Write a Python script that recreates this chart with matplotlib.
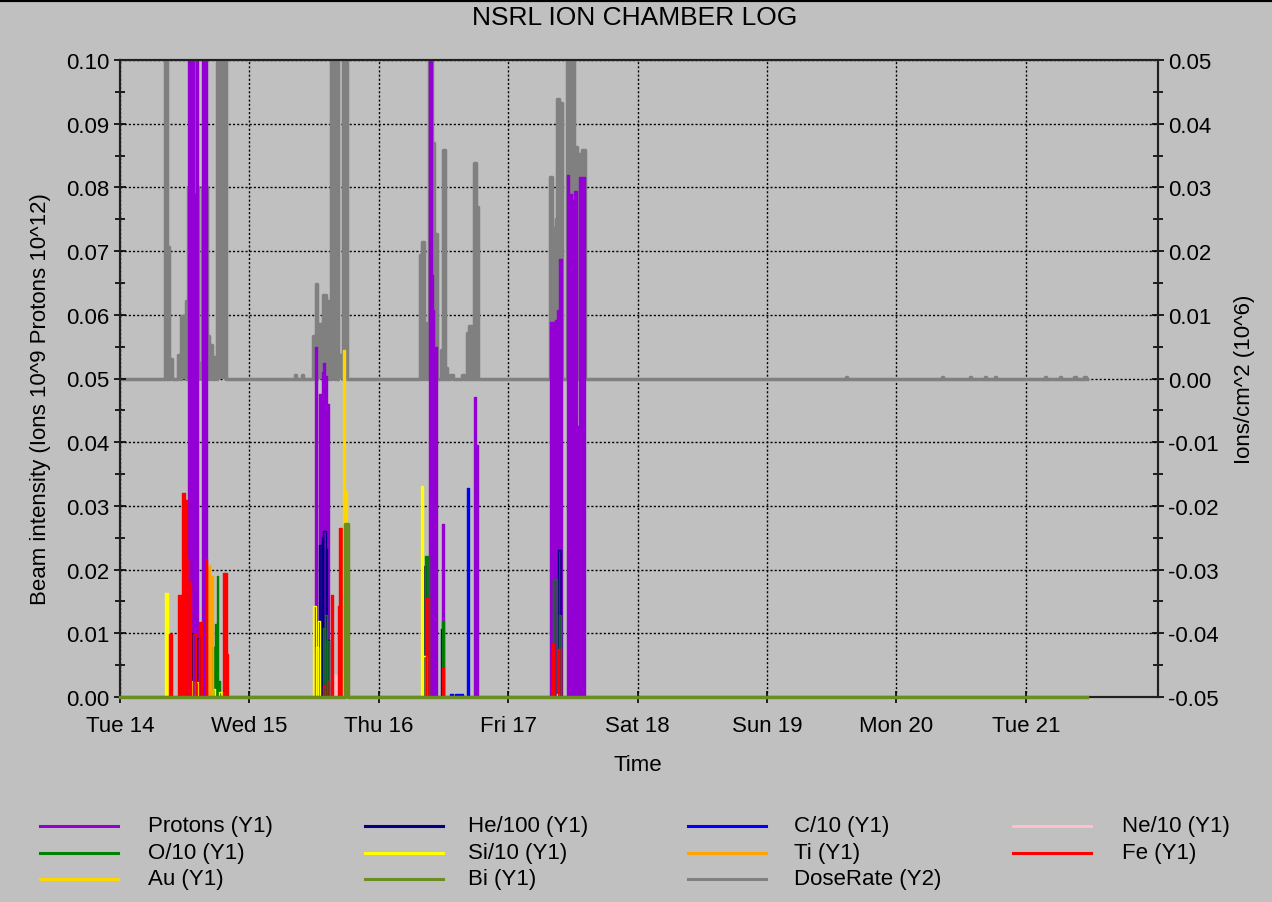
import matplotlib
matplotlib.use('Agg')
import matplotlib.pyplot as plt
import numpy as np
from matplotlib.lines import Line2D

plt.rcParams['font.family'] = ['Liberation Sans', 'DejaVu Sans']

# time axis in hours since Tue 14 00:00
day_hours = [0, 24, 48, 72, 96, 120, 144, 168]
day_labels = ['Tue 14', 'Wed 15', 'Thu 16', 'Fri 17', 'Sat 18', 'Sun 19', 'Mon 20', 'Tue 21']
end_hour = 179.3

# each series: (start hour, end hour, value); 0.12 / 0.06 = off scale
protons = [(12.55, 13.79, 0.12), (13.79, 14.03, 0.079), (14.03, 14.53, 0.12), (15.15, 16.07, 0.12),
           (36.17, 36.48, 0.055), (36.97, 37.40, 0.0475), (37.40, 37.71, 0.051), (37.71, 38.02, 0.0524),
           (38.02, 38.45, 0.0504), (38.45, 38.83, 0.046),
           (57.31, 57.80, 0.12), (57.80, 58.11, 0.0663), (58.11, 58.30, 0.0607), (58.30, 58.73, 0.0549),
           (59.66, 60.09, 0.0272), (65.65, 66.03, 0.0471), (66.03, 66.33, 0.0395),
           (79.75, 80.68, 0.0588), (80.68, 81.11, 0.0592), (81.11, 81.42, 0.0608), (81.42, 82.04, 0.0687),
           (82.84, 83.34, 0.082), (83.34, 83.77, 0.079), (83.77, 84.20, 0.0781), (84.20, 84.70, 0.0795),
           (84.70, 85.19, 0.0425), (85.19, 86.24, 0.0817)]
helium = [(13.29, 13.60, 0.010), (14.34, 14.71, 0.0092),
          (36.97, 37.40, 0.0238), (37.40, 37.71, 0.0251), (37.71, 38.21, 0.0261), (38.21, 38.45, 0.0232),
          (38.45, 38.83, 0.009), (56.44, 56.63, 0.0205), (59.47, 59.72, 0.0106), (81.30, 81.73, 0.023)]
carbon = [(61.20, 61.70, 0.0004), (62.13, 63.68, 0.0004), (64.29, 64.73, 0.0328)]
neon = [(39.75, 40.18, 0.0035)]
oxygen = [(17.31, 17.68, 0.0078), (17.68, 17.93, 0.0114), (17.93, 18.24, 0.019), (18.24, 18.49, 0.0025),
          (37.71, 38.02, 0.0109), (38.02, 38.33, 0.0129), (38.33, 38.83, 0.0088),
          (56.63, 57.31, 0.0221), (59.78, 60.15, 0.0119),
          (80.24, 80.99, 0.0186), (81.42, 81.73, 0.0128)]
silicon = [(8.41, 8.84, 0.0164), (13.29, 13.60, 0.0025), (14.10, 14.47, 0.0023), (17.19, 17.68, 0.0013),
           (18.42, 18.86, 0.0008),
           (35.86, 36.35, 0.0143), (36.35, 36.79, 0.0079), (36.79, 37.09, 0.0119),
           (55.83, 56.26, 0.0331), (56.26, 56.75, 0.0065), (80.99, 81.30, 0.0005)]
titanium = [(16.20, 16.69, 0.0207), (16.69, 17.31, 0.019)]
iron = [(9.15, 9.65, 0.0099), (10.82, 11.44, 0.016), (11.44, 12.12, 0.032), (12.12, 12.49, 0.031),
        (12.49, 12.80, 0.0217), (12.80, 13.11, 0.018), (13.60, 14.03, 0.0099), (14.71, 15.15, 0.0118),
        (15.89, 16.20, 0.0217), (19.04, 19.78, 0.0194), (19.78, 20.03, 0.0067),
        (37.71, 38.02, 0.0017), (38.33, 38.83, 0.0025), (39.07, 39.57, 0.016), (40.37, 40.62, 0.0143),
        (40.62, 41.11, 0.0265), (41.11, 41.42, 0.0243),
        (56.75, 57.31, 0.0156), (59.78, 60.15, 0.0047),
        (80.06, 80.49, 0.0083), (81.30, 81.73, 0.0075)]
gold = [(41.30, 41.73, 0.0544), (41.73, 42.16, 0.0324)]
bismuth = [(41.73, 42.35, 0.0272)]
dose_rate = [(8.35, 8.78, 0.06), (8.78, 9.15, 0.0206), (9.15, 9.65, 0.003), (10.82, 11.25, 0.0037),
             (11.25, 12.24, 0.0098), (12.24, 12.55, 0.0122), (12.55, 13.79, 0.03), (13.79, 14.03, 0.06),
             (14.03, 14.53, 0.03), (14.53, 15.15, 0.0025), (15.15, 16.07, 0.03), (16.07, 16.44, 0.0067),
             (16.44, 17.00, 0.0052), (17.00, 17.43, 0.0026), (17.43, 17.93, 0.0034), (17.93, 19.66, 0.06),
             (32.4, 32.6, 0.0005), (33.7, 33.9, 0.0005),
             (35.86, 36.35, 0.0067), (36.35, 36.60, 0.0148), (36.60, 37.59, 0.0086), (37.59, 38.21, 0.0131),
             (38.21, 38.83, 0.0121), (38.83, 39.07, 0.0008), (39.07, 39.88, 0.06), (39.88, 40.18, 0.0008),
             (40.18, 40.49, 0.06), (40.49, 41.30, 0.0037), (41.30, 42.16, 0.06),
             (55.64, 55.95, 0.0194), (55.95, 56.38, 0.0214), (56.38, 56.88, 0.0062), (56.88, 57.31, 0.0087),
             (57.31, 57.93, 0.06), (57.93, 58.30, 0.037), (58.30, 58.73, 0.0227), (59.47, 59.84, 0.0044),
             (59.84, 60.28, 0.0358), (60.28, 60.59, 0.0017), (61.20, 61.70, 0.0005), (63.5, 63.8, 0.0005),
             (64.42, 64.79, 0.0072), (64.79, 65.10, 0.0082), (65.65, 66.03, 0.0338), (66.03, 66.33, 0.0269),
             (79.75, 80.18, 0.0317), (80.18, 80.80, 0.0236), (80.80, 81.11, 0.025), (81.11, 81.42, 0.0438),
             (81.42, 82.04, 0.0432), (82.84, 84.20, 0.06), (84.20, 84.70, 0.0363), (84.70, 85.19, 0.0187),
             (85.19, 85.62, 0.0352), (85.62, 86.24, 0.0358),
             (134.7, 134.9, 0.0003), (152.5, 152.7, 0.0003), (157.6, 157.8, 0.0003), (160.4, 160.6, 0.0003),
             (162.2, 162.4, 0.0003), (171.5, 171.7, 0.0003), (174.3, 174.5, 0.0003), (177.0, 177.3, 0.0003),
             (178.7, 179.1, 0.0003)]

y1_series = [protons, helium, carbon, neon, oxygen, silicon, titanium, iron, gold, bismuth]
y1_names = ['Protons (Y1)', 'He/100 (Y1)', 'C/10 (Y1)', 'Ne/10 (Y1)', 'O/10 (Y1)', 'Si/10 (Y1)',
            'Ti (Y1)', 'Fe (Y1)', 'Au (Y1)', 'Bi (Y1)']
y1_colors = ['#9400d3', '#000080', '#0000ff', '#ffc0cb', '#008000', '#ffff00',
             '#ffa500', '#ff0000', '#ffd700', '#6b8e23']
dose_name = 'DoseRate (Y2)'
dose_color = '#808080'
bg = '#c0c0c0'


def to_steps(segs):
    t = [0.0]
    v = [0.0]
    for s, e, val in segs:
        t += [s, e]
        v += [val, 0.0]
    t.append(end_hour)
    v.append(0.0)
    return np.array(t), np.array(v)


fig = plt.figure(figsize=(12.72, 9.03), dpi=100, facecolor=bg)
ax = fig.add_axes([120 / 1272, 1 - 698 / 903, 1038 / 1272, 637 / 903])
ax2 = ax.twinx()
ax.set_zorder(2)
ax2.set_zorder(1)
ax.patch.set_visible(False)
ax2.patch.set_visible(True)
ax2.set_facecolor(bg)

# dose rate behind everything, with the grid on that axes
t, v = to_steps(dose_rate)
ax2.fill_between(t, 0, v, step='post', color=dose_color, lw=0)
ax2.step(t, v, where='post', color=dose_color, lw=2.5)
ax2.set_ylim(-0.05, 0.05)
ax2.set_yticks(np.linspace(-0.05, 0.05, 11))
ax2.set_yticks(np.linspace(-0.045, 0.045, 10), minor=True)
ax2.yaxis.set_major_formatter(matplotlib.ticker.FormatStrFormatter('%.2f'))
ax2.xaxis.set_visible(True)
ax2.tick_params(axis='x', bottom=False, labelbottom=False, top=False, labeltop=False)
ax2.grid(True, which='major', axis='both', linestyle=(0, (1.5, 1.5)), color='black', lw=1)
ax2.set_axisbelow(True)

for segs, c in zip(y1_series, y1_colors):
    t, v = to_steps(segs)
    ax.fill_between(t, 0, v, step='post', color=c, lw=0)
    if c == '#6b8e23':
        ax.step(t, v, where='post', color=c, lw=2.5, clip_on=False, zorder=5)
    else:
        ax.step(t, v, where='post', color=c, lw=1)

ax.set_xlim(0, 192.5)
ax.set_ylim(0, 0.1)
ax.set_xticks(day_hours)
ax.set_xticklabels(day_labels)
ax.set_yticks(np.linspace(0, 0.1, 11))
ax.set_yticks(np.linspace(0.005, 0.095, 10), minor=True)
ax.yaxis.set_major_formatter(matplotlib.ticker.FormatStrFormatter('%.2f'))

fs = 16
for a in (ax, ax2):
    a.tick_params(axis='y', which='major', direction='inout', length=9, width=1.2, labelsize=fs, pad=3)
    a.tick_params(axis='y', which='minor', direction='inout', length=7, width=1.2)
    for sp in a.spines.values():
        sp.set_linewidth(1.5)
        sp.set_color('#202020')
ax.tick_params(axis='x', direction='inout', length=8, width=1.2, labelsize=fs, pad=9)

ax.set_ylabel('Beam intensity (Ions 10^9 Protons 10^12)', fontsize=fs)
ax.yaxis.set_label_coords(-0.066, 0.47)
ax2.set_ylabel('Ions/cm^2 (10^6)', fontsize=fs)
ax2.yaxis.set_label_coords(1.073, 0.5)
ax.set_xlabel('Time', fontsize=fs)
ax.xaxis.set_label_coords(0.499, -0.089)

fig.text(635 / 1272, 1 - 18 / 903, 'NSRL ION CHAMBER LOG', ha='center', va='center', fontsize=19)

# legend, laid out in rows like the original
legend_rows = [[0, 1, 2, 3], [4, 5, 6, 7], [8, 9, 10]]
all_names = y1_names + [dose_name]
all_colors = y1_colors + [dose_color]
col_handle_x = [40, 365, 688, 1013]
col_text_x = [148, 468, 794, 1122]
row_y = [827, 854, 880]
for r, row in enumerate(legend_rows):
    yf = 1 - row_y[r] / 903
    for c, idx in enumerate(row):
        x0 = col_handle_x[c] / 1272
        fig.add_artist(Line2D([x0, x0 + 78 / 1272], [yf, yf], color=all_colors[idx], lw=2.2))
        fig.text(col_text_x[c] / 1272, yf, all_names[idx], ha='left', va='center', fontsize=fs)

# black rule along the top edge
fig.add_artist(Line2D([0, 1], [0.999, 0.999], color='black', lw=3))

fig.savefig('out.png', dpi=100, facecolor=bg)
